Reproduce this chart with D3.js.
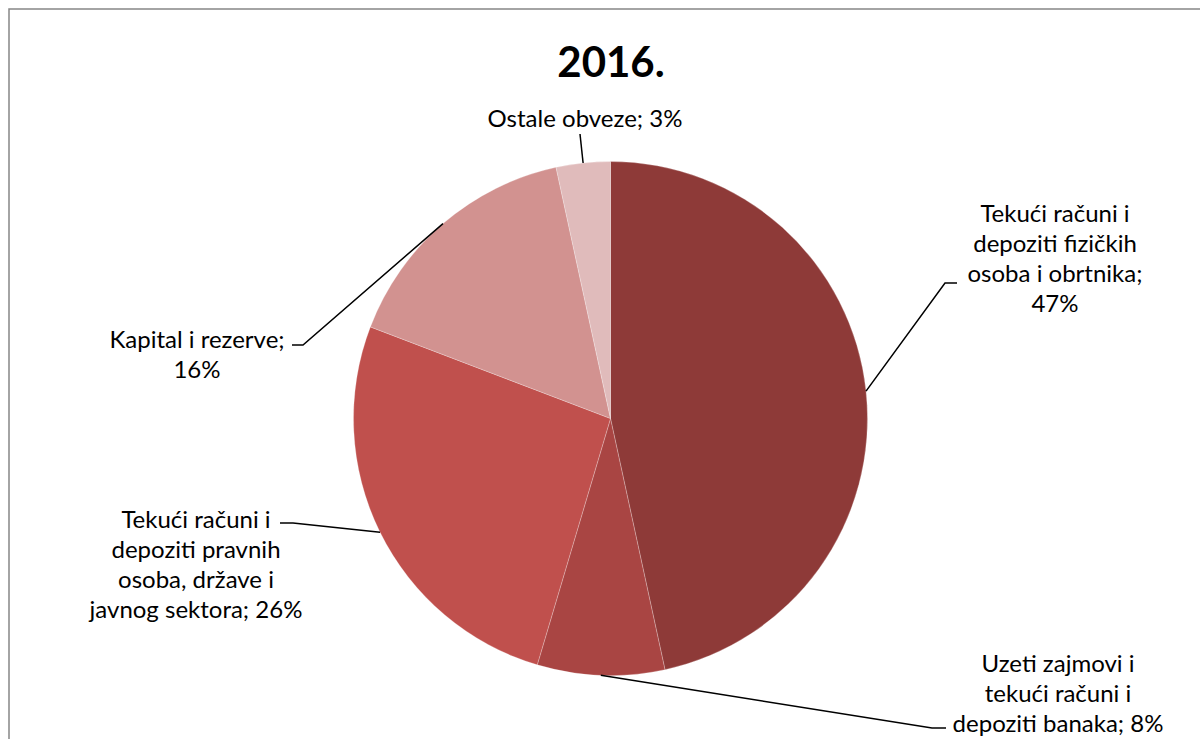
<!DOCTYPE html>
<html><head><meta charset="utf-8">
<script src="https://cdn.jsdelivr.net/npm/d3@7"></script>
<style>body{margin:0;background:#fff}svg{display:block}</style>
</head><body>
<svg id="c" width="1200" height="739"></svg>
<script>
const title = "2016.";
const categories = [
  ["Tekući računi i", "depoziti fizičkih", "osoba i obrtnika;", "47%"],
  ["Uzeti zajmovi i", "tekući računi i", "depoziti banaka; 8%"],
  ["Tekući računi i", "depoziti pravnih", "osoba, države i", "javnog sektora; 26%"],
  ["Kapital i rezerve;", "16%"],
  ["Ostale obveze; 3%"]
];
const values = [46.6, 8.0, 26.2, 15.8, 3.4];
const colors = ["#8E3A38", "#A94543", "#C0504D", "#D29290", "#E0BBBB"];
// label layout: text centre x, first baseline y, leader kink (kx,ky), tick end ex
const labelLayout = [
  {tx: 1055, ty: 222, kx: 945, ky: 283, ex: 957},
  {tx: 1058, ty: 672, kx: 932, ky: 728, ex: 946},
  {tx: 196, ty: 528, kx: 293, ky: 523, ex: 280},
  {tx: 197, ty: 348, kx: 303, ky: 345, ex: 292},
  {tx: 585, ty: 127, kx: 580, ky: 134, ex: null}
];

const svg = d3.select("#c");
svg.append("rect").attr("x", 9).attr("y", 9).attr("width", 1200).attr("height", 800)
  .attr("fill", "#fff").attr("stroke", "#868686").attr("stroke-width", 1.5);

svg.append("text").attr("x", 611).attr("y", 77).attr("text-anchor", "middle")
  .attr("font-family", "Lato, 'Open Sans', sans-serif").attr("font-weight", "bold")
  .attr("font-size", 42).attr("fill", "#000").text(title);

const cx = 610.5, cy = 418.5, r = 257;
const pie = d3.pie().sort(null).value(d => d);
const arcs = pie(values);
const arc = d3.arc().innerRadius(0).outerRadius(r);
const g = svg.append("g").attr("transform", `translate(${cx},${cy})`);
g.selectAll("path").data(arcs).join("path")
  .attr("d", arc).attr("fill", (d, i) => colors[i])
  .attr("stroke", "rgba(255,255,255,0.35)").attr("stroke-width", 0.7);

// leaders
arcs.forEach((d, i) => {
  const mid = (d.startAngle + d.endAngle) / 2;
  const px = cx + r * Math.sin(mid), py = cy - r * Math.cos(mid);
  const L = labelLayout[i];
  const pts = [[px, py], [L.kx, L.ky]];
  if (L.ex !== null) pts.push([L.ex, L.ky]);
  svg.append("path").attr("d", d3.line()(pts)).attr("fill", "none")
    .attr("stroke", "#000").attr("stroke-width", 1.5);
});

const lab = svg.append("g").attr("font-family", "Lato, 'Open Sans', sans-serif")
  .attr("font-size", 24).attr("fill", "#000").attr("text-anchor", "middle");
categories.forEach((lines, i) => {
  const L = labelLayout[i];
  const t = lab.append("text").attr("x", L.tx).attr("y", L.ty);
  lines.forEach((s, j) => t.append("tspan").attr("x", L.tx).attr("y", L.ty + j * 30).text(s));
});
</script>
</body></html>
